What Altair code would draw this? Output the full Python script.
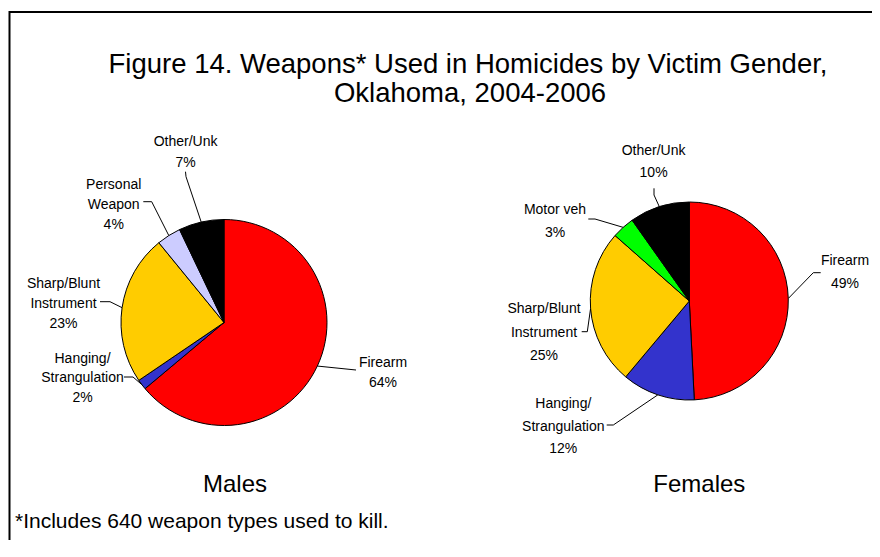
import math
import altair as alt
import pandas as pd

# ---------------- data ----------------
weapons = ["Firearm", "Hanging/Strangulation", "Sharp/Blunt Instrument",
           "Personal Weapon", "Motor veh", "Other/Unk"]
weapon_colors = ["#FF0000", "#3333CC", "#FFCC00", "#CCCCFF", "#00FF00", "#000000"]

male_weapons = ["Firearm", "Hanging/Strangulation", "Sharp/Blunt Instrument",
                "Personal Weapon", "Other/Unk"]
male_share = [63.9, 1.6, 23.6, 3.8, 7.1]
male_labels = [["Firearm", "64%"], ["Hanging/", "Strangulation", "2%"],
               ["Sharp/Blunt", "Instrument", "23%"], ["Personal", "Weapon", "4%"],
               ["Other/Unk", "7%"]]

female_weapons = ["Firearm", "Hanging/Strangulation", "Sharp/Blunt Instrument",
                  "Motor veh", "Other/Unk"]
female_share = [49.2, 11.9, 25.4, 3.7, 9.8]
female_labels = [["Firearm", "49%"], ["Hanging/", "Strangulation", "12%"],
                 ["Sharp/Blunt", "Instrument", "25%"], ["Motor veh", "3%"],
                 ["Other/Unk", "10%"]]

title_lines = ["Figure 14. Weapons* Used in Homicides by Victim Gender,",
               "Oklahoma, 2004-2006"]
panel_titles = ["Males", "Females"]
footnote = "*Includes 640 weapon types used to kill."

# ---------------- layout (positions in picture pixels) ----------------
W, H = 864, 532
OX, OY = 8, 8
pies = {"Males": dict(cx=224.0, cy=322.5, r=103),
        "Females": dict(cx=689.3, cy=301.0, r=99)}
male_label_pos = [(383, 366.7, 20), (82.5, 362.7, 19.5), (63.5, 288.3, 20),
                  (113.7, 189, 19.8), (185.6, 145.7, 21)]
male_leader_tail = [[(356, 370)], [(133, 377), (124, 377)],
                    [(110, 301.7), (100, 301.7)], [(151.7, 201.7), (143.3, 201.7)],
                    [(186, 176.7), (185.5, 171.7)]]
female_label_pos = [(845, 265, 23.3), (563.3, 408.3, 22.5), (544, 313.3, 23.3),
                    (555, 214, 22.7), (653.6, 155, 22.3)]
female_leader_tail = [[(813.3, 272.7), (820.7, 272.7)], [(613.3, 425), (606.7, 425)],
                      [(587.3, 331.7), (581.7, 331.7)], [(595, 219), (588.3, 219)],
                      [(654, 195), (654, 188.3)]]
title_pos = [(468, 73.3), (470, 101.7)]
panel_title_pos = [(235, 491.7), (699.3, 491.7)]
footnote_pos = (15, 528.3)

LABEL_FONT = "Liberation Sans, Arial, sans-serif"
MAIN_FONT = "Liberation Sans, Arial, sans-serif"

xenc = alt.X("x:Q", scale=alt.Scale(domain=[OX, OX + W], nice=False, zero=False), axis=None)
yenc = alt.Y("y:Q", scale=alt.Scale(domain=[OY, OY + H], nice=False, zero=False, reverse=True), axis=None)
color_scale = alt.Scale(domain=weapons, range=weapon_colors)

layers = []
leader_rows, text_rows = [], []
sets = [("Males", male_weapons, male_share, male_labels, male_label_pos, male_leader_tail),
        ("Females", female_weapons, female_share, female_labels, female_label_pos, female_leader_tail)]
for name, wl, sh, labs, lpos, tails in sets:
    p = pies[name]
    df = pd.DataFrame({"weapon": wl, "share": sh, "idx": list(range(len(wl)))})
    layers.append(
        alt.Chart(df).mark_arc(radius=p["r"], stroke="black", strokeWidth=1).encode(
            theta=alt.Theta("share:Q", stack=True),
            order=alt.Order("idx:Q"),
            color=alt.Color("weapon:N", scale=color_scale, legend=None),
            x=alt.value(p["cx"] - OX),
            y=alt.value(p["cy"] - OY),
        )
    )
    total = sum(sh)
    cum = 0.0
    for i, s in enumerate(sh):
        mid = (cum + s / 2) / total * 2 * math.pi
        cum += s
        ax = p["cx"] + p["r"] * math.sin(mid)
        ay = p["cy"] - p["r"] * math.cos(mid)
        pts = [(ax, ay)] + tails[i]
        for k, (px, py) in enumerate(pts):
            leader_rows.append({"lid": f"{name}-{i}", "pt": k, "x": px, "y": py})
        lx, ly, lh = lpos[i]
        for j, line in enumerate(labs[i]):
            text_rows.append({"x": lx, "y": ly + j * lh, "t": line})

leaders = alt.Chart(pd.DataFrame(leader_rows)).mark_line(color="black", strokeWidth=1).encode(
    x=xenc, y=yenc, detail="lid:N", order="pt:Q")
labels = alt.Chart(pd.DataFrame(text_rows)).mark_text(
    font=LABEL_FONT, fontSize=14, align="center", baseline="alphabetic", color="black"
).encode(x=xenc, y=yenc, text="t:N")

title_df = pd.DataFrame({"x": [p[0] for p in title_pos], "y": [p[1] for p in title_pos], "t": title_lines})
title = alt.Chart(title_df).mark_text(
    font=MAIN_FONT, fontSize=27.5, align="center", baseline="alphabetic", color="black"
).encode(x=xenc, y=yenc, text="t:N")

pt_df = pd.DataFrame({"x": [p[0] for p in panel_title_pos], "y": [p[1] for p in panel_title_pos], "t": panel_titles})
ptitles = alt.Chart(pt_df).mark_text(
    font=MAIN_FONT, fontSize=24, align="center", baseline="alphabetic", color="black"
).encode(x=xenc, y=yenc, text="t:N")

fn_df = pd.DataFrame({"x": [footnote_pos[0]], "y": [footnote_pos[1]], "t": [footnote]})
fnote = alt.Chart(fn_df).mark_text(
    font=MAIN_FONT, fontSize=21, align="left", baseline="alphabetic", color="black"
).encode(x=xenc, y=yenc, text="t:N")

# outer frame: only its top and left edges fall inside the picture
frame_df = pd.DataFrame({"k": [0]})
frame = alt.Chart(frame_df).mark_rect(fill="transparent", stroke="black", strokeWidth=2).encode(
    x=alt.value(9.5 - OX), x2=alt.value(W + 40), y=alt.value(12 - OY), y2=alt.value(H + 40))

chart = alt.layer(*layers, leaders, labels, title, ptitles, fnote, frame).resolve_scale(
    theta="independent"
).properties(
    width=W, height=H, padding=0, background="white",
    autosize=alt.AutoSizeParams(type="none"),
).configure_view(stroke="transparent", strokeWidth=0)

chart.save("out.html", embed_options={"renderer": "svg", "actions": False})
